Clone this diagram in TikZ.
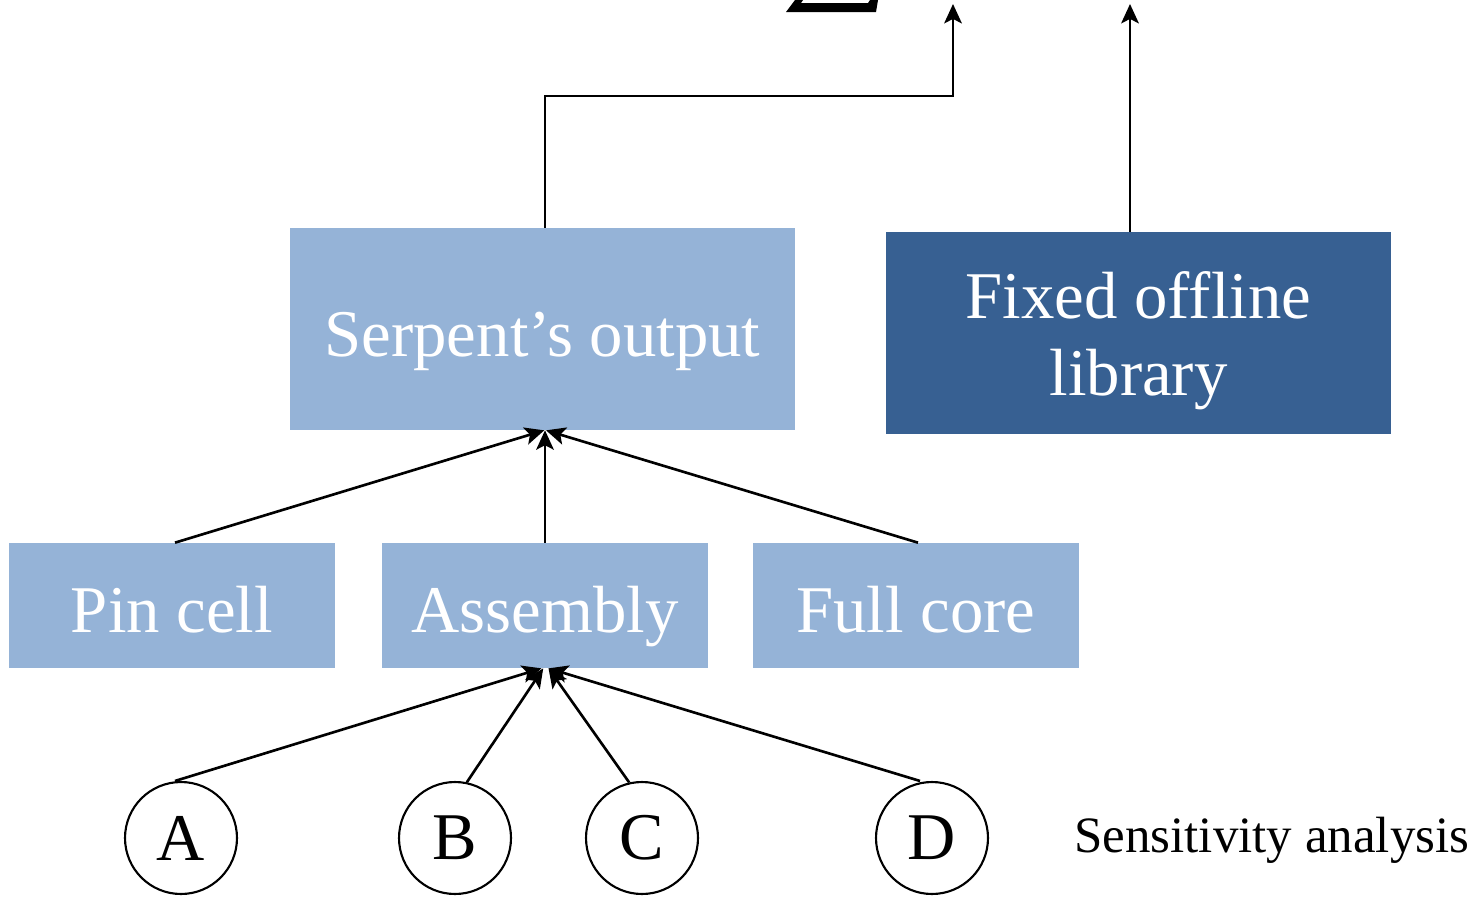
\documentclass[tikz,border=0pt]{standalone}
\usepackage{fontspec}
\setmainfont{Liberation Serif}
\usetikzlibrary{positioning,arrows.meta}

\definecolor{lightbox}{HTML}{95B3D7}
\definecolor{darkbox}{HTML}{376092}

\tikzset{
  lightblock/.style={fill=lightbox, text=white, minimum width=6.52cm,
    minimum height=2.5cm, inner sep=0pt, text height=31pt, text depth=0pt,
    font=\fontsize{38}{44}\selectfont},
  param/.style={draw, circle, line width=1.2pt, minimum size=2.24cm,
    inner sep=0pt, font=\fontsize{38}{44}\selectfont},
  link/.style={line width=1.5pt, -{Stealth[length=11pt,width=10pt,inset=2.5pt]}},
}

\begin{document}
\begin{tikzpicture}[x=0.02cm, y=-0.02cm]
        \useasboundingbox (0,0) rectangle (1473,896);
        % top of the sum sign, cut off by the page
        \fill (786,12) -- (876,12) -- (878,0) -- (870,0) -- (868,3)
          -- (801,3) -- (803,0) -- (795,0) -- cycle;
        % output boxes
        \node[lightblock, minimum width=10.1cm, minimum height=4.04cm]
          (serpent) at (542.5,329) {Serpent’s output};
        \node[lightblock, fill=darkbox, minimum width=10.1cm,
          minimum height=4.04cm, align=center, text height=71pt]
          (library) at (1138.5,333) {Fixed offline\\library};
        % model levels
        \node[lightblock] (pin) at (172,605.5) {Pin cell};
        \node[lightblock] (assembly) at (545,605.5) {Assembly};
        \node[lightblock] (core) at (916,605.5) {Full core};
        % parameters
        \node[param] (a) at (181,838) {A};
        \node[param] (b) at (455,838) {B};
        \node[param] (c) at (642,838) {C};
        \node[param] (d) at (932,838) {D};
        \node[anchor=west, inner sep=0pt, font=\fontsize{29}{34}\selectfont]
          (sens) at (1074,840) {Sensitivity analysis};
        % free ends at the top
        \coordinate (sumin) at (953,4);
        \coordinate (libout) at (1130,4);
        % connectors
        \draw[link] (pin.north) ++(3,0) -- ([xshift=1pt]serpent.south);
        \draw[link] (assembly.north) -- (assembly.north |- serpent.south);
        \draw[link] (core.north) ++(2,0) -- ([xshift=2pt]serpent.south);
        \draw[link] (a.north) ++(-6,0) -- ([xshift=-2pt]assembly.south);
        \draw[link] (b.78) -- ([xshift=-1pt]assembly.south);
        \draw[link] (c.103) -- ([xshift=2pt]assembly.south);
        \draw[link] (d.north) ++(-12,0) -- ([xshift=2pt]assembly.south);
        \draw[link] (serpent.north) ++(2.5,0) |- (953,96) -- (sumin);
        \draw[link] (library.north) ++(-8.5,0) -- (libout);
      \end{tikzpicture}
\end{document}
